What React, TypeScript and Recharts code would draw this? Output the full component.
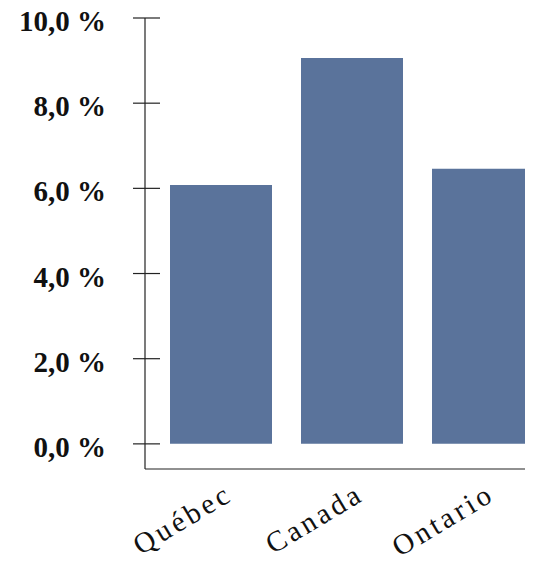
import { Bar, BarChart, XAxis, YAxis } from "recharts";

const regions = ["Québec", "Canada", "Ontario"];
const rates = [6.08, 9.06, 6.46];
const yTicks = [0, 2, 4, 6, 8, 10];

const data = regions.map((region, i) => ({ region, rate: rates[i] }));

const BAR_COLOR = "#5a739b";

function YTick(props: any) {
  const { x, y, payload } = props;
  return (
    <g>
      <line x1={x - 12} x2={x + 15} y1={y} y2={y} stroke="#222" strokeWidth={1.2} />
      <text
        x={x - 39}
        y={y}
        dy="0.45em"
        textAnchor="end"
        fontFamily="Liberation Serif, serif"
        fontWeight="bold"
        fontSize={29}
        fill="#111"
      >
        {payload.value.toFixed(1).replace(".", ",")} %
      </text>
    </g>
  );
}

function XTick(props: any) {
  const { x, y, payload } = props;
  const tx = x + 14;
  const ty = y + 28;
  return (
    <text
      x={tx}
      y={ty}
      textAnchor="end"
      transform={`rotate(-31, ${tx}, ${ty})`}
      fontFamily="Liberation Serif, serif"
      fontSize={29}
      letterSpacing={3.5}
      fill="#111"
    >
      {payload.value}
    </text>
  );
}

export default function App() {
  return (
    <div style={{ width: 525, height: 566, overflow: "hidden", marginTop: -8 }}>
      <BarChart
        width={540}
        height={566}
        data={data}
        margin={{ top: 18, right: 0, bottom: 0, left: 0 }}
        barSize={102}
      >
        <XAxis
          dataKey="region"
          height={97}
          padding={{ left: 10, right: 0 }}
          axisLine={{ stroke: "#222", strokeWidth: 1.2 }}
          tickLine={false}
          tickSize={0}
          tick={<XTick />}
          interval={0}
        />
        <YAxis
          width={137}
          domain={[-0.59, 10]}
          ticks={yTicks}
          allowDataOverflow
          axisLine={{ stroke: "#222", strokeWidth: 1.2 }}
          tickLine={false}
          tickSize={0}
          tickMargin={0}
          tick={<YTick />}
        />
        <Bar dataKey="rate" fill={BAR_COLOR} isAnimationActive={false} />
      </BarChart>
    </div>
  );
}
